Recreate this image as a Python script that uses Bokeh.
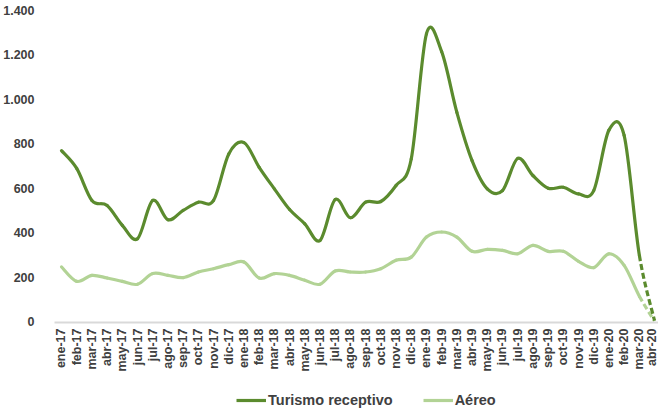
import numpy as np
from bokeh.plotting import figure
from bokeh.layouts import column
from bokeh.models import ColumnDataSource, FixedTicker, Legend, LegendItem, Range1d
from bokeh.embed import file_html
from bokeh.resources import INLINE

months = ["ene-17", "feb-17", "mar-17", "abr-17", "may-17", "jun-17", "jul-17", "ago-17",
          "sep-17", "oct-17", "nov-17", "dic-17",
          "ene-18", "feb-18", "mar-18", "abr-18", "may-18", "jun-18", "jul-18", "ago-18",
          "sep-18", "oct-18", "nov-18", "dic-18",
          "ene-19", "feb-19", "mar-19", "abr-19", "may-19", "jun-19", "jul-19", "ago-19",
          "sep-19", "oct-19", "nov-19", "dic-19",
          "ene-20", "feb-20", "mar-20", "abr-20"]

turismo = [770, 690, 546, 523, 434, 374, 546, 459, 501, 538, 546, 755,
           806, 695, 598, 505, 441, 366, 550, 468, 538, 541, 613, 732,
           1295, 1215, 942, 725, 598, 590, 735, 658, 601, 605, 575, 590,
           862, 838, 300, 5]

aereo = [247, 182, 209, 197, 182, 169, 217, 209, 199, 224, 239, 257,
         269, 197, 217, 209, 187, 169, 229, 224, 224, 239, 277, 291,
         381, 404, 381, 317, 326, 321, 306, 344, 317, 317, 272, 244,
         306, 254, 115, 3]

y_ticks = [0, 200, 400, 600, 800, 1000, 1200, 1400]
y_tick_labels = ["0", "200", "400", "600", "800", "1.000", "1.200", "1.400"]

series_names = ["Turismo receptivo", "Aéreo"]
DARK = "#5B8B2E"
LIGHT = "#B2D395"


def bezier_sources(vals):
    """Smooth (Catmull-Rom style) bezier segments between consecutive data points."""
    y = np.array(vals, dtype=float)
    x = np.arange(len(y), dtype=float)
    n = len(y)
    xp = np.concatenate([[x[0]], x, [x[-1]]])
    yp = np.concatenate([[y[0]], y, [y[-1]]])
    d = dict(x0=[], y0=[], x1=[], y1=[], cx0=[], cy0=[], cx1=[], cy1=[])
    for i in range(n - 1):
        j = i + 1
        d["x0"].append(x[i]); d["y0"].append(y[i])
        d["x1"].append(x[i + 1]); d["y1"].append(y[i + 1])
        d["cx0"].append(x[i] + (xp[j + 1] - xp[j - 1]) / 6)
        d["cy0"].append(y[i] + (yp[j + 1] - yp[j - 1]) / 6)
        d["cx1"].append(x[i + 1] - (xp[j + 2] - xp[j]) / 6)
        d["cy1"].append(y[i + 1] - (yp[j + 2] - yp[j]) / 6)
    solid = {k: v[:-1] for k, v in d.items()}
    dashed = {k: v[-1:] for k, v in d.items()}
    return ColumnDataSource(solid), ColumnDataSource(dashed)


p = figure(frame_width=604, frame_height=316, output_backend="svg", toolbar_location=None,
           x_range=Range1d(-0.46, 39.26), y_range=Range1d(-3, 1418),
           min_border_left=49, min_border_right=0, min_border_top=6, min_border_bottom=60)
p.outline_line_color = None
p.xgrid.grid_line_color = None
p.ygrid.grid_line_color = None
p.background_fill_color = "white"
p.border_fill_color = "white"

for vals, color in [(aereo, LIGHT), (turismo, DARK)]:
    s_solid, s_dash = bezier_sources(vals)
    p.bezier("x0", "y0", "x1", "y1", "cx0", "cy0", "cx1", "cy1", source=s_solid,
             line_color=color, line_width=3.2, line_cap="round")
    p.bezier("x0", "y0", "x1", "y1", "cx0", "cy0", "cx1", "cy1", source=s_dash,
             line_color=color, line_width=3.2, line_dash="6 3")

# Y axis
p.yaxis.ticker = FixedTicker(ticks=y_ticks)
p.yaxis.major_label_overrides = {t: l for t, l in zip(y_ticks, y_tick_labels)}
p.yaxis.axis_line_color = None
p.yaxis.major_tick_line_color = None
p.yaxis.minor_tick_line_color = None
p.yaxis.major_label_standoff = 14
p.yaxis.major_label_text_font = "Liberation Sans"
p.yaxis.major_label_text_font_style = "bold"
p.yaxis.major_label_text_font_size = "12.5px"
p.yaxis.major_label_text_color = "#404040"

# X axis
p.xaxis.ticker = FixedTicker(ticks=list(range(len(months))))
p.xaxis.major_label_overrides = {i: m for i, m in enumerate(months)}
p.xaxis.major_label_orientation = np.pi / 2
p.xaxis.axis_line_color = "#D9D9D9"
p.xaxis.axis_line_width = 2
p.xaxis.major_tick_line_color = None
p.xaxis.minor_tick_line_color = None
p.xaxis.major_tick_out = 0
p.xaxis.major_tick_in = 0
p.xaxis.major_label_standoff = 6
p.xaxis.major_label_text_font = "Liberation Sans"
p.xaxis.major_label_text_font_style = "bold"
p.xaxis.major_label_text_font_size = "12.5px"
p.xaxis.major_label_text_color = "#404040"

# Legend strip below the chart; its own line renderers sit outside its visible range
pl = figure(width=653, height=28, output_backend="svg", toolbar_location=None,
            x_range=Range1d(0, 1), y_range=Range1d(0, 1), min_border=0,
            x_axis_type=None, y_axis_type=None)
pl.outline_line_color = None
pl.grid.visible = False
pl.background_fill_color = "white"
pl.border_fill_color = "white"
off = dict(x=[-10, -9], y=[-10, -10])
r_t = pl.line("x", "y", source=ColumnDataSource(off), line_color=DARK, line_width=3.2)
r_a = pl.line("x", "y", source=ColumnDataSource(off), line_color=LIGHT, line_width=3.2)
legend = Legend(items=[LegendItem(label=series_names[0], renderers=[r_t]),
                       LegendItem(label=series_names[1], renderers=[r_a])],
                orientation="horizontal", location=(182, 2),
                border_line_color=None, background_fill_alpha=0,
                label_text_font="Liberation Sans", label_text_font_style="bold",
                label_text_font_size="14.5px", label_text_color="#404040",
                glyph_width=30, glyph_height=14, label_height=14, label_standoff=2,
                spacing=30, margin=0, padding=0)
pl.add_layout(legend, "center")

open("out.html", "w").write(file_html(column(p, pl, spacing=0), INLINE))
